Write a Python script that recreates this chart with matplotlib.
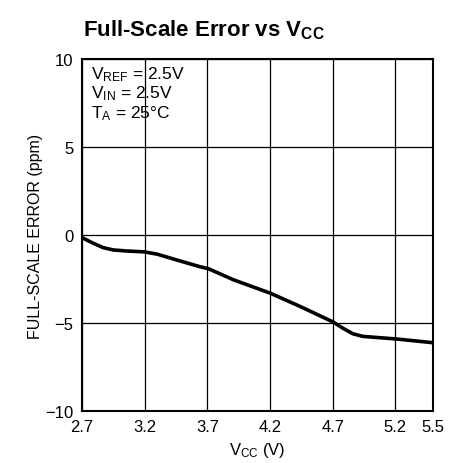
import matplotlib
matplotlib.use("Agg")
import matplotlib.pyplot as plt

fam = "Liberation Sans"
plt.rcParams['font.family'] = [fam, 'DejaVu Sans']
plt.rcParams['mathtext.fontset'] = 'custom'
plt.rcParams['mathtext.rm'] = fam
plt.rcParams['mathtext.it'] = fam
plt.rcParams['mathtext.bf'] = fam + ':bold'

vcc = [2.70, 2.79, 2.87, 2.95, 3.06, 3.20, 3.30, 3.48, 3.64, 3.71, 3.91, 4.20,
       4.44, 4.70, 4.78, 4.86, 4.94, 5.21, 5.50]
err = [-0.15, -0.47, -0.72, -0.85, -0.91, -0.96, -1.09, -1.47, -1.80, -1.92, -2.55, -3.30,
       -4.06, -4.93, -5.29, -5.61, -5.76, -5.91, -6.12]
xticks = [2.7, 3.2, 3.7, 4.2, 4.7, 5.2, 5.5]
yticks = [-10, -5, 0, 5, 10]
ytick_labels = ["\u221210", "\u22125", "0", "5", "10"]

fig = plt.figure(figsize=(4.64, 4.64), dpi=100)
ax = fig.add_axes([82/464, 1-412/464, 351/464, 352/464])
ax.plot(vcc, err, color='black', lw=2.6, solid_capstyle='butt', solid_joinstyle='round')
ax.set_xlim(2.7, 5.5)
ax.set_ylim(-10, 10)
ax.set_xticks(xticks)
ax.set_xticklabels([str(t) for t in xticks])
ax.set_yticks(yticks)
ax.set_yticklabels(ytick_labels)
ax.grid(True, color='black', lw=0.9)
ax.tick_params(length=0, labelsize=12, pad=6)
for s in ax.spines.values():
    s.set_linewidth(1.5)
ax.set_ylabel("FULL-SCALE ERROR (ppm)", fontsize=11.5, labelpad=2)
ax.set_xlabel("V$_{\\mathrm{CC}}$ (V)", fontsize=12, labelpad=4)
ax.text(0.025, 0.985, "V$_{\\mathrm{REF}}$ = 2.5V\nV$_{\\mathrm{IN}}$ = 2.5V\nT$_{\\mathrm{A}}$ = 25\u00b0C",
        transform=ax.transAxes, va='top', ha='left', fontsize=12.5, linespacing=1.05)
fig.text(83/464, 1-36/464, "Full-Scale Error vs V$_{\\mathbf{CC}}$", fontsize=16, fontweight='bold',
         ha='left', va='baseline')
fig.savefig("out.png", dpi=100)
